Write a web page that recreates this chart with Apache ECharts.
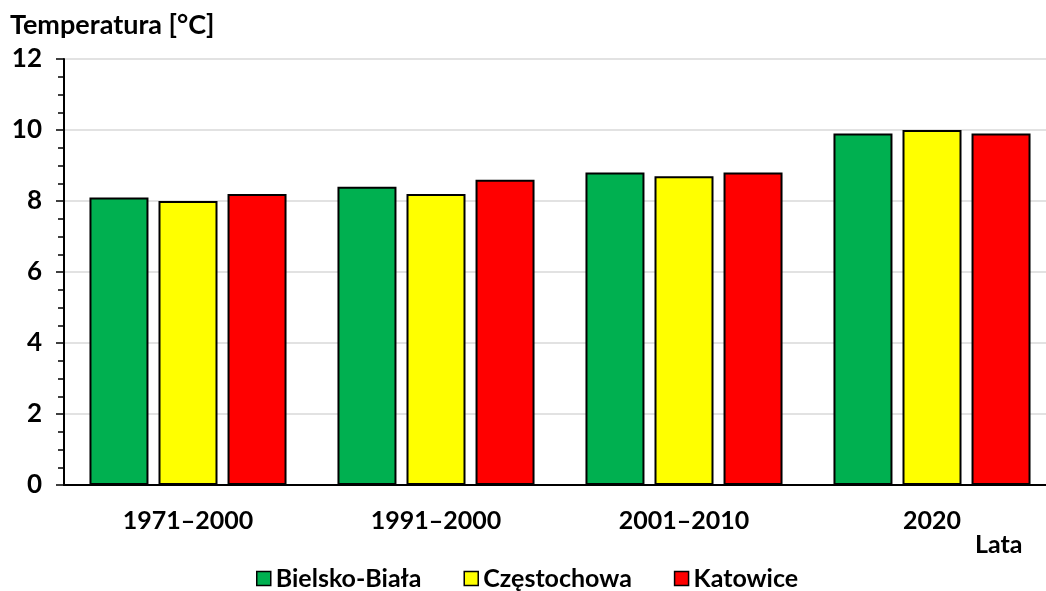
<!DOCTYPE html>
<html><head><meta charset="utf-8">
<script src="https://cdn.jsdelivr.net/npm/echarts@6/dist/echarts.min.js"></script>
<style>html,body{margin:0;padding:0;background:#fff;overflow:hidden;width:1046px;height:591px}#c{width:1060px;height:591px}</style>
</head><body><div id="c"></div>
<script>
const categories = ['1971–2000', '1991–2000', '2001–2010', '2020'];
const bielsko = [8.1, 8.4, 8.8, 9.9];
const czestochowa = [8.0, 8.2, 8.7, 10.0];
const katowice = [8.2, 8.6, 8.8, 9.9];
const seriesNames = ['Bielsko-Biała', 'Częstochowa', 'Katowice'];
const colors = ['#00b050', '#ffff00', '#ff0000'];

const font = 'Lato, "Open Sans", sans-serif';
const chart = echarts.init(document.getElementById('c'), null, {renderer: 'canvas'});
const mk = (name, data, color) => ({
  name, type: 'bar', data, barWidth: 59, barGap: '17%',
  itemStyle: {color, borderColor: '#000', borderWidth: 2},
  emphasis: {disabled: true}
});
chart.setOption({
  animation: false,
  textStyle: {fontFamily: font},
  title: {text: 'Temperatura [°C]', left: 7, top: 9, padding: 3,
    textStyle: {fontFamily: font, fontSize: 27, fontWeight: 'bold', color: '#000'}},
  graphic: [{type: 'text', left: 975, top: 532,
    style: {text: 'Lata', fontFamily: font, fontSize: 25, fontWeight: 'bold', fill: '#000'}}],
  legend: {top: 566, left: 256, padding: 0, itemWidth: 14, itemHeight: 14, itemGap: 42,
    icon: 'rect',
    itemStyle: {borderColor: '#000', borderWidth: 1.5},
    textStyle: {fontFamily: font, fontSize: 25, fontWeight: 'bold', color: '#000', padding: [0,0,0,0]},
    data: seriesNames},
  grid: {left: 64, right: 4, top: 59, bottom: 106, containLabel: false},
  xAxis: {type: 'category', data: categories,
    axisLine: {lineStyle: {color: '#000', width: 2}},
    axisTick: {show: false},
    axisLabel: {margin: 23, fontFamily: font, fontSize: 25, fontWeight: 'bold', color: '#000'}},
  yAxis: {type: 'value', min: 0, max: 12, interval: 2,
    axisLine: {show: true, lineStyle: {color: '#000', width: 2}},
    axisTick: {show: true, length: 8, lineStyle: {color: '#000', width: 1.5}},
    minorTick: {show: true, splitNumber: 4, length: 6, lineStyle: {color: '#000', width: 1.5}},
    splitLine: {show: true, lineStyle: {color: '#d9d9d9', width: 1.5}},
    axisLabel: {margin: 22, fontFamily: font, fontSize: 26, fontWeight: 'bold', color: '#000'}},
  series: [mk(seriesNames[0], bielsko, colors[0]), mk(seriesNames[1], czestochowa, colors[1]), mk(seriesNames[2], katowice, colors[2])]
});
</script></body></html>
